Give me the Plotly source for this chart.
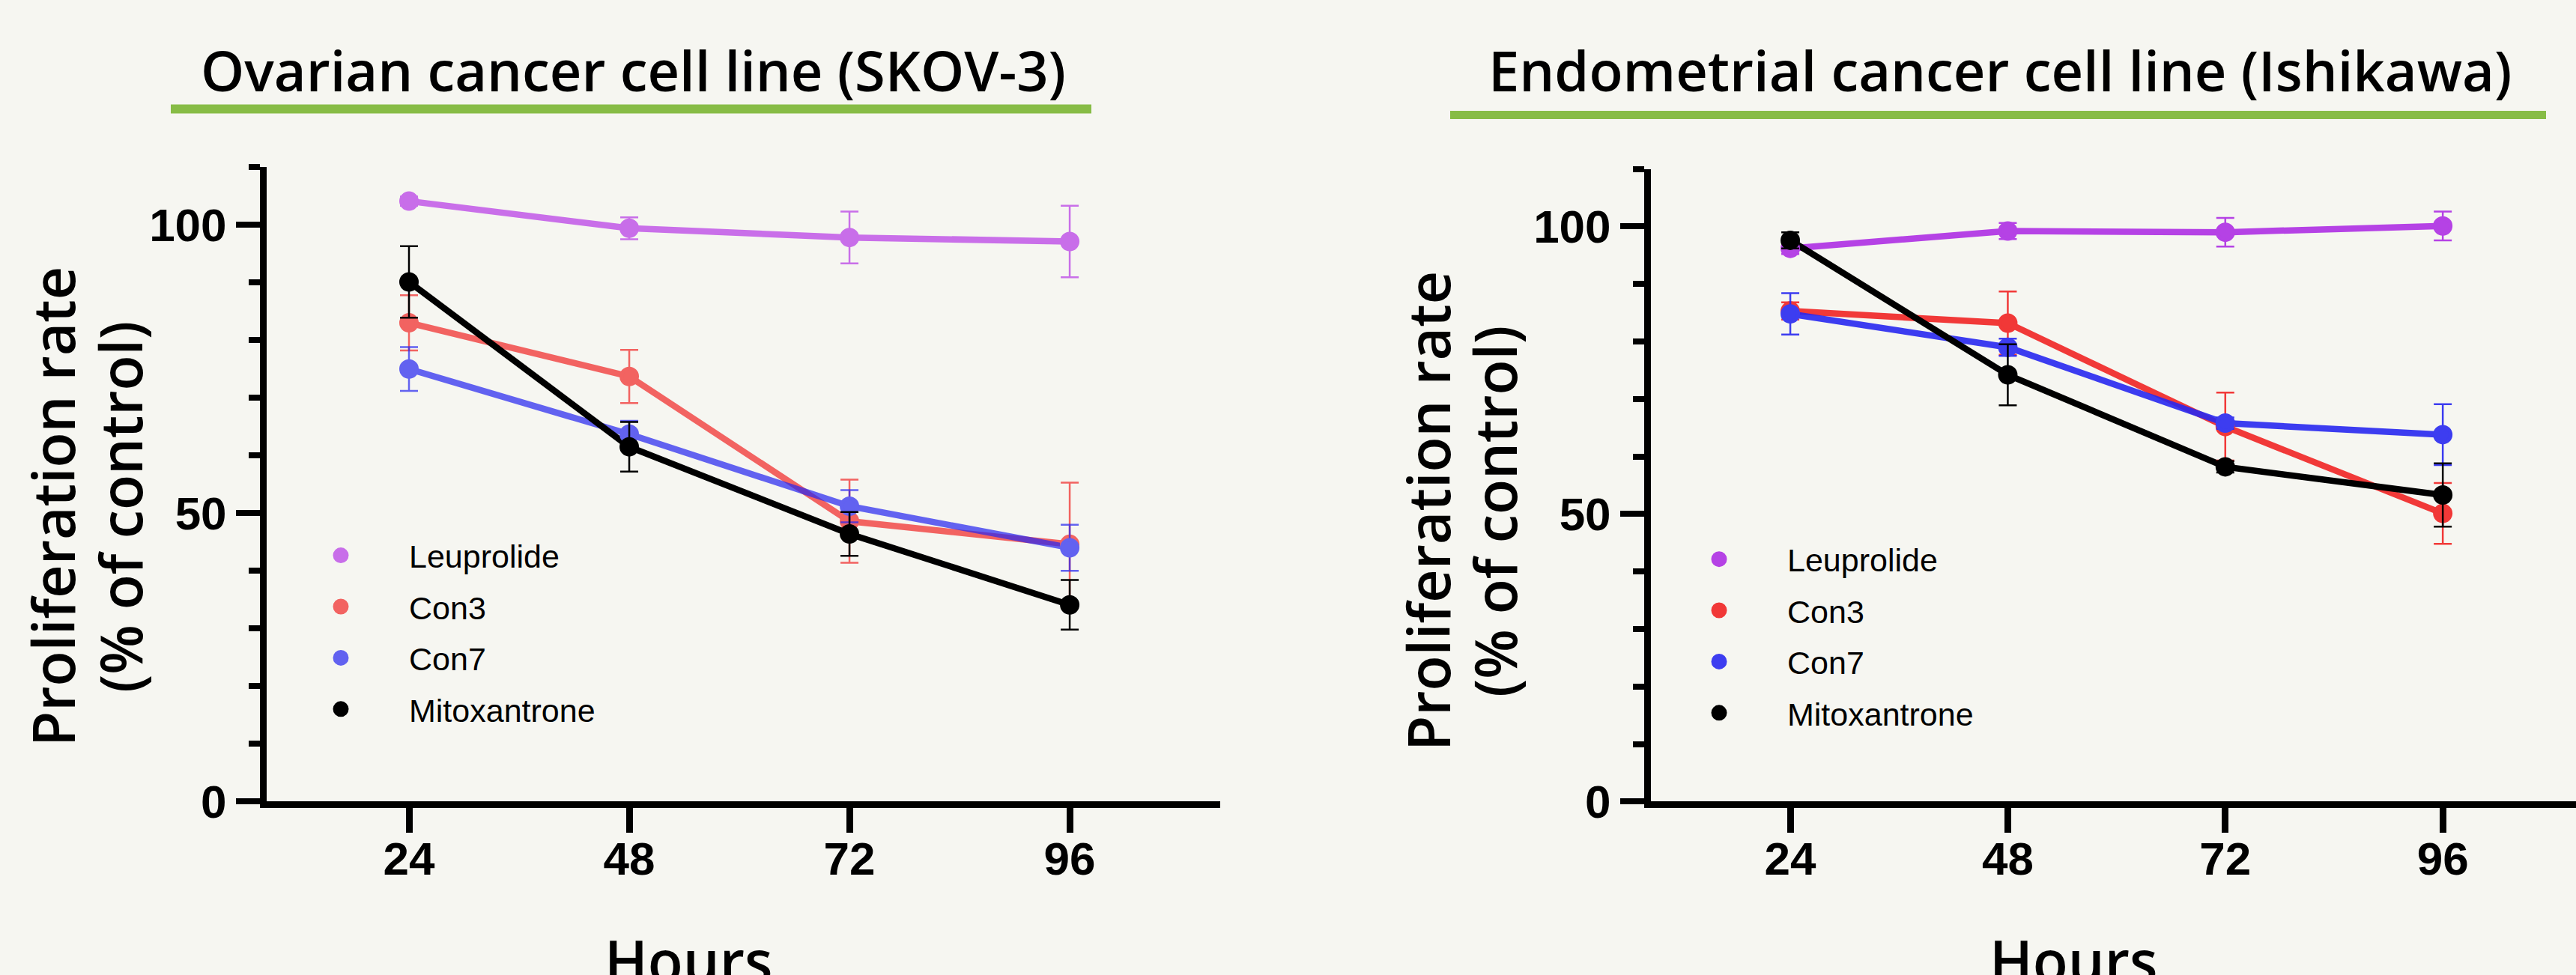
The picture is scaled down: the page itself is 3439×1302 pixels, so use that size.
import plotly.graph_objects as go

W = 3439
H_REF = 1302      # target picture height
H_PAGE = 1341     # layout height that is photographed as 1302 rows

# ---------------- data ----------------
HOURS = [24, 48, 72, 96]
HOUR_LABELS = ["24", "48", "72", "96"]
SERIES = ["Leuprolide", "Con3", "Con7", "Mitoxantrone"]
Y_TICKS = [0, 50, 100]
Y_TICK_LABELS = ["0", "50", "100"]

TITLE_LEFT = "Ovarian cancer cell line (SKOV-3)"
TITLE_RIGHT = "Endometrial cancer cell line (Ishikawa)"

# Ovarian (SKOV-3): mean and error
skov_leuprolide = [104.1, 99.4, 97.8, 97.1]
skov_leuprolide_err = [0.8, 1.9, 4.5, 6.2]
skov_con3 = [83.0, 73.7, 48.6, 44.6]
skov_con3_err = [4.8, 4.6, 7.2, 10.7]
skov_con7 = [75.0, 63.7, 51.2, 44.0]
skov_con7_err = [3.8, 2.3, 2.8, 4.0]
skov_mitox = [90.1, 61.5, 46.4, 34.1]
skov_mitox_err = [6.2, 4.3, 3.8, 4.3]

# Endometrial (Ishikawa)
ishi_leuprolide = [96.2, 99.2, 99.0, 100.1]
ishi_leuprolide_err = [1.0, 1.4, 2.5, 2.5]
ishi_con3 = [85.3, 83.2, 65.2, 50.1]
ishi_con3_err = [1.5, 5.5, 5.9, 5.3]
ishi_con7 = [84.8, 79.0, 65.8, 63.8]
ishi_con7_err = [3.6, 1.5, 1.0, 5.3]
ishi_mitox = [97.6, 74.2, 58.2, 53.3]
ishi_mitox_err = [1.4, 5.3, 1.0, 5.5]

BG = (246, 246, 241)
BG_CSS = "rgb(246,246,241)"
# (base rgb, alpha) per series
LEFT_COLORS = [((185, 65, 230), 0.75), ((240, 20, 20), 0.65), ((40, 40, 240), 0.72), ((0, 0, 0), 1.0)]
RIGHT_COLORS = [((175, 50, 228), 0.92), ((240, 20, 20), 0.84), ((40, 40, 240), 0.90), ((0, 0, 0), 1.0)]


def rgba(c):
    (r, g, b), a = c
    return f"rgba({r},{g},{b},{a})"


def solid(c):
    (r, g, b), a = c
    mix = [round(bg - a * (bg - v)) for bg, v in zip(BG, (r, g, b))]
    return f"rgb({mix[0]},{mix[1]},{mix[2]})"


def px_x(p):
    return p / W


def px_y(p):
    # p is a row of the 1302-row target picture
    return 1 - p / H_REF


fig = go.Figure()

panels = [
    dict(xa="x", ya="y", legend="legend", colors=LEFT_COLORS,
         data=[(skov_leuprolide, skov_leuprolide_err), (skov_con3, skov_con3_err),
               (skov_con7, skov_con7_err), (skov_mitox, skov_mitox_err)]),
    dict(xa="x2", ya="y2", legend="legend2", colors=RIGHT_COLORS,
         data=[(ishi_leuprolide, ishi_leuprolide_err), (ishi_con3, ishi_con3_err),
               (ishi_con7, ishi_con7_err), (ishi_mitox, ishi_mitox_err)]),
]

for p_i, p in enumerate(panels):
    for name, (vals, errs), col in zip(SERIES, p["data"], p["colors"]):
        fig.add_trace(go.Scatter(
            x=HOURS, y=vals, mode="lines", xaxis=p["xa"], yaxis=p["ya"],
            line=dict(color=rgba(col), width=8.5), showlegend=False, hoverinfo="skip"))
    for name, (vals, errs), col in zip(SERIES, p["data"], p["colors"]):
        fig.add_trace(go.Scatter(
            x=HOURS, y=vals, mode="markers", name=name, xaxis=p["xa"], yaxis=p["ya"],
            legend=p["legend"], legendgroup=f"{p_i}-{name}",
            marker=dict(color=solid(col), size=21, line=dict(color=solid(col), width=5)),
            error_y=dict(type="data", array=errs, visible=True, color=rgba(col),
                         thickness=2.5, width=12)))

axis_common = dict(showgrid=False, zeroline=False, showline=True, linecolor="black",
                   linewidth=9, ticks="outside", tickcolor="black",
                   tickfont=dict(family="Liberation Sans", size=62, color="black", weight="bold"))

xcommon = dict(axis_common, tickvals=HOURS, ticktext=HOUR_LABELS, ticklen=33, tickwidth=9,
               ticklabelstandoff=-19)
ycommon = dict(axis_common, tickvals=Y_TICKS, ticktext=Y_TICK_LABELS, ticklen=32, tickwidth=8,
               range=[0, 110],
               minor=dict(dtick=10, tick0=0, ticks="outside", ticklen=15, tickwidth=8, tickcolor="black"))

fig.update_layout(
    width=W, height=H_PAGE,
    margin=dict(l=0, r=0, t=0, b=0),
    paper_bgcolor=BG_CSS, plot_bgcolor=BG_CSS,
    xaxis=dict(xcommon, domain=[px_x(356), px_x(1629)], range=[8.49, 112.4], anchor="y"),
    yaxis=dict(ycommon, domain=[px_y(1067), px_y(222.5)], anchor="x"),
    xaxis2=dict(xcommon, domain=[px_x(2204), 1.0], range=[8.62, 110.7], anchor="y2"),
    yaxis2=dict(ycommon, domain=[px_y(1067), px_y(225)], anchor="x2"),
    legend=dict(x=px_x(364), y=px_y(705), xanchor="left", yanchor="top",
                bgcolor="rgba(0,0,0,0)", font=dict(family="Liberation Sans", size=43, color="black"),
                tracegroupgap=9.5, itemwidth=172),
    legend2=dict(x=px_x(2204), y=px_y(710), xanchor="left", yanchor="top",
                 bgcolor="rgba(0,0,0,0)", font=dict(family="Liberation Sans", size=43, color="black"),
                 tracegroupgap=9.5, itemwidth=172),
    showlegend=True,
)

title_font = dict(family="Open Sans", size=74, color="black", weight=600)
axis_title_font = dict(family="Open Sans", size=77, color="black", weight=600)

ann = []
# titles
ann.append(dict(text=TITLE_LEFT, x=px_x(845), y=px_y(93), xref="paper", yref="paper",
                showarrow=False, font=title_font, xanchor="center", yanchor="middle"))
ann.append(dict(text=TITLE_RIGHT, x=px_x(2670), y=px_y(93), xref="paper", yref="paper",
                showarrow=False, font=title_font, xanchor="center", yanchor="middle"))
# y axis titles (two lines each)
for cx1, cx2, cy in [(70, 160, 675), (1906, 1995, 681)]:
    ann.append(dict(text="Proliferation rate", x=px_x(cx1), y=px_y(cy), xref="paper", yref="paper",
                    showarrow=False, font=axis_title_font, textangle=-90,
                    xanchor="center", yanchor="middle"))
    ann.append(dict(text="(% of control)", x=px_x(cx2), y=px_y(cy), xref="paper", yref="paper",
                    showarrow=False, font=axis_title_font, textangle=-90,
                    xanchor="center", yanchor="middle"))
# x axis titles (cut by the bottom edge, as in the reference)
for cx in [920, 2768]:
    ann.append(dict(text="Hours", x=px_x(cx), y=px_y(1279), xref="paper", yref="paper",
                    showarrow=False, font=axis_title_font, xanchor="center", yanchor="middle"))

fig.update_layout(annotations=ann)

# green underlines
shapes = [
    dict(type="line", xref="paper", yref="paper", x0=px_x(228), x1=px_x(1457),
         y0=px_y(145), y1=px_y(145), line=dict(color="rgb(135,188,70)", width=12)),
    dict(type="line", xref="paper", yref="paper", x0=px_x(1936), x1=px_x(3399),
         y0=px_y(153), y1=px_y(153), line=dict(color="rgb(135,188,70)", width=11)),
]
fig.update_layout(shapes=shapes)

POST = (
    "document.documentElement.style.cssText='margin:0;padding:0;overflow:hidden;background:" + BG_CSS + ";';"
    "document.body.style.cssText='margin:0;padding:0;overflow:hidden;background:" + BG_CSS + ";';"
)

fig.write_html("out.html", config={"displayModeBar": False}, post_script=POST)
